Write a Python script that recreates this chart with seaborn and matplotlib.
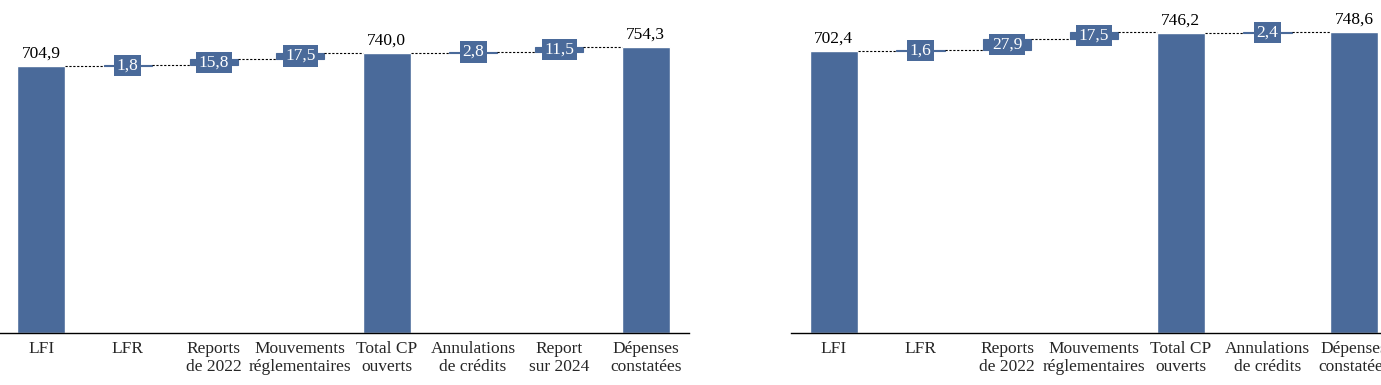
import numpy as np
import pandas as pd
import seaborn as sns
import matplotlib.pyplot as plt

# left chart data
cats1 = ["LFI", "LFR", "Reports\nde 2022", "Mouvements\nréglementaires", "Total CP\nouverts",
         "Annulations\nde crédits", "Report\nsur 2024", "Dépenses\nconstatées"]
vals1 = [704.9, 1.8, 15.8, 17.5, 740.0, 2.8, 11.5, 754.3]
tot1 = [True, False, False, False, True, False, False, True]

# right chart data
cats2 = ["LFI", "LFR", "Reports\nde 2022", "Mouvements\nréglementaires", "Total CP\nouverts",
         "Annulations\nde crédits", "Dépenses\nconstatées"]
vals2 = [702.4, 1.6, 27.9, 17.5, 746.2, 2.4, 748.6]
tot2 = [True, False, False, False, True, False, True]

BLUE = "#4a6a9a"
FS = 12.5
W = 0.556

sns.set_style("white")
plt.rcParams["font.family"] = ["Liberation Serif", "DejaVu Serif"]


def waterfall(ax, cats, vals, tots, ymax):
    # running level -> bottom / top of each bar
    bottoms, tops = [], []
    level = 0.0
    for v, t in zip(vals, tots):
        if t:
            bottoms.append(0.0)
            tops.append(v)
            level = v
        else:
            bottoms.append(level)
            tops.append(level + v)
            level += v
    df = pd.DataFrame({"cat": cats, "value": [v if t else 0 for v, t in zip(vals, tots)]})

    # total bars with seaborn
    sns.barplot(data=df, x="cat", y="value", color=BLUE, width=W, saturation=1,
                ax=ax, order=cats)

    # floating steps
    idx = [i for i, t in enumerate(tots) if not t]
    ax.bar(idx, [vals[i] for i in idx], bottom=[bottoms[i] for i in idx], width=W,
           color=BLUE, edgecolor=BLUE, linewidth=0.8, zorder=2)

    # dotted connectors
    hw = W / 2
    for i in range(len(cats) - 1):
        y = tops[i]
        ax.plot([i + hw, i + 1 - hw], [y, y], color="black", lw=0.8,
                linestyle=(0, (2, 1.5)), zorder=3)

    # labels
    for i, (v, t) in enumerate(zip(vals, tots)):
        txt = f"{v:.1f}".replace(".", ",")
        if t:
            ax.annotate(txt, (i, tops[i]), xytext=(0, 3), textcoords="offset points",
                        ha="center", va="bottom", fontsize=FS, color="black")
        else:
            ax.text(i, (tops[i] + bottoms[i]) / 2, txt, ha="center", va="center",
                    fontsize=FS, color="white", zorder=5,
                    bbox=dict(boxstyle="square,pad=0.15", fc=BLUE, ec="none"))

    ax.set_ylim(0, ymax)
    ax.set_xlim(-0.5, len(cats) - 0.5)
    ax.set_xlabel("")
    ax.set_ylabel("")
    ax.set_yticks([])
    ax.tick_params(axis="x", length=0, labelsize=FS, pad=6)
    for lab in ax.get_xticklabels():
        lab.set_linespacing(1.1)
    for s in ["top", "right", "left"]:
        ax.spines[s].set_visible(False)
    ax.spines["bottom"].set_color("black")
    ax.spines["bottom"].set_linewidth(1.0)


fig = plt.figure(figsize=(13.81, 3.85), dpi=100)
ax1 = fig.add_axes([-2 / 1381, 52 / 385, 691 / 1381, 313 / 385])
ax2 = fig.add_axes([790.5 / 1381, 52 / 385, 607 / 1381, 313 / 385])

waterfall(ax1, cats1, vals1, tot1, 826)
waterfall(ax2, cats2, vals2, tot2, 779)

fig.savefig("out.png", dpi=100)
